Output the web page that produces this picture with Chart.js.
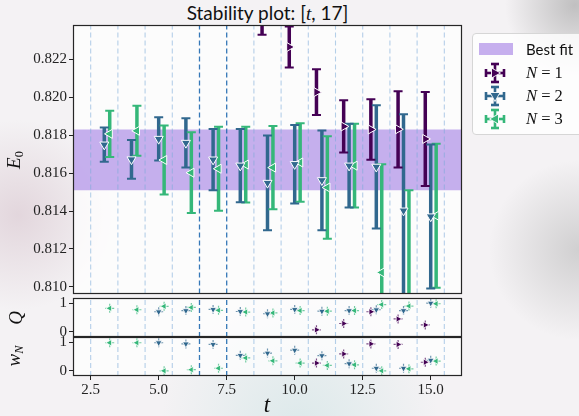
<!DOCTYPE html>
<html lang="en">
<head>
<meta charset="UTF-8">
<title>Stability plot</title>
<script src="https://cdn.jsdelivr.net/npm/chart.js@4.4.0/dist/chart.umd.min.js"></script>
<style>
  html, body { margin: 0; padding: 0; }
  body {
    position: relative;
    width: 579px;
    height: 416px;
    overflow: hidden;
    background:
      radial-gradient(circle at 18px 215px, rgba(205,180,192,0.45), rgba(205,180,192,0) 95px),
      radial-gradient(circle at 575px 5px, rgba(150,150,150,0.55), rgba(150,150,150,0) 70px),
      radial-gradient(circle at 579px 250px, rgba(165,165,165,0.45), rgba(165,165,165,0) 90px),
      radial-gradient(circle at 300px 430px, rgba(190,222,222,0.45), rgba(190,222,222,0) 140px),
      #f4f2f4;
  }
  .box { position: absolute; left: 0; width: 579px; }
  canvas { display: block; }
  #title {
    position: absolute; left: 73px; width: 389px; top: 1px;
    text-align: center; font: 19px/24px Lato, sans-serif; color: #111;
  }
  .m { font-family: 'Liberation Serif', serif; font-style: italic; }
  .lab {
    position: absolute; transform: translate(-50%, -50%) rotate(-90deg);
    white-space: nowrap; font-family: 'Liberation Serif', serif; color: #111;
  }
  .lab sub { font-style: normal; font-size: 65%; vertical-align: -0.25em; }
  .lab i sub { font-style: italic; }
  #xlab {
    position: absolute; left: 267px; top: 405px; transform: translate(-50%, -50%);
    font: italic 23px 'Liberation Serif', serif; color: #111;
  }
  #legend {
    position: absolute; left: 472px; top: 33px; width: 120px; height: 100px;
    border: 1px solid #d6d6d6; border-radius: 4px; background: rgba(255,255,255,0.8);
  }
  .row { position: absolute; left: 0; height: 22px; width: 110px; }
  .row .ico { position: absolute; left: 10px; top: 0; }
  .row .txt {
    position: absolute; left: 53px; top: 0; line-height: 22px; color: #111;
    white-space: nowrap;
  }
  .sw { position: absolute; left: 6px; top: 5px; width: 34px; height: 12px; }
</style>
</head>
<body>
<div id="title">Stability plot: [<span class="m">t</span>, 17]</div>
<div class="box" style="top:0;height:300px"><canvas id="mainChart" width="579" height="300"></canvas></div>
<div class="box" style="top:290px;height:56px"><canvas id="qChart" width="579" height="56"></canvas></div>
<div class="box" style="top:329px;height:87px"><canvas id="wChart" width="579" height="87"></canvas></div>
<div class="lab" style="left:15px;top:160px;font-size:19px"><i>E</i><sub>0</sub></div>
<div class="lab" style="left:16px;top:318px;font-size:19px"><i>Q</i></div>
<div class="lab" style="left:15px;top:356px;font-size:19px"><i>w<sub>N</sub></i></div>
<div id="xlab">t</div>
<div id="legend"></div>

<script>
// fit windows t = 3..15 (tmax = 17)
const tValues = [3, 4, 5, 6, 7, 8, 9, 10, 11, 12, 13, 14, 15];
const xTicks = [2.5, 5, 7.5, 10, 12.5, 15];
const e0Ticks = [0.810, 0.812, 0.814, 0.816, 0.818, 0.820, 0.822];
const unitTicks = [0, 1];
const guideLines = [2.5, 3.5, 4.5, 5.5, 6.5, 7.5, 8.5, 9.5, 10.5, 11.5, 12.5, 13.5, 14.5, 15.5];
const chosenWindow = [6.5, 7.5];
const bestFit = [0.8151, 0.8183];

// E0 and its error per number of states
const e0N1 = [null, null, null, null, null, null, 0.8245, 0.82265, 0.82027, 0.81846, 0.8183, 0.81831, 0.8178];
const errN1 = [null, null, null, null, null, null, 0.0012, 0.00108, 0.00121, 0.00138, 0.0016, 0.00201, 0.00248];
const e0N2 = [0.8175, 0.81672, 0.8178, 0.81759, 0.81671, 0.81639, 0.81548, 0.81647, 0.81562, 0.81639, 0.81633, 0.81402, 0.81371];
const errN2 = [0.0009, 0.00102, 0.00114, 0.0013, 0.00161, 0.00193, 0.0025, 0.00207, 0.00263, 0.00221, 0.00325, 0.00508, 0.0038];
const e0N3 = [0.81807, 0.81823, 0.81669, 0.81602, 0.81623, 0.81645, 0.81629, 0.81656, 0.81524, 0.81639, 0.81076, 0.8090, 0.81375];
const errN3 = [0.00122, 0.00132, 0.00182, 0.00213, 0.00221, 0.002, 0.0022, 0.00207, 0.0027, 0.00221, 0.00571, 0.00609, 0.0038];

// fit quality Q
const qN1 = [null, null, null, null, null, null, null, null, 0.07, 0.29, 0.7, 0.45, 0.24];
const qN2 = [null, null, 0.7, 0.74, 0.78, 0.71, 0.63, 0.78, 0.72, 0.74, 0.77, 0.74, 1.0];
const qN3 = [0.82, 0.77, 0.89, 0.85, 0.75, 0.69, 0.66, 0.74, 0.72, 0.74, 0.95, 0.9, 0.98];

// model weights w_N
const wN1 = [null, null, null, null, null, null, null, null, 0.27, 0.59, 0.94, 0.92, 0.3];
const wN2 = [null, null, 0.98, 0.94, 0.92, 0.54, 0.62, 0.72, 0.53, 0.25, 0.09, 0.09, 0.37];
const wN3 = [0.98, 0.98, 0.0, 0.04, 0.09, 0.45, 0.35, 0.27, 0.19, 0.21, 0.0, 0.07, 0.34];

const xMin = 1.85, xMax = 16.15;
const e0Min = 0.80965, e0Max = 0.82381;
const unitMin = -0.18, unitMax = 1.18;

const series = [
  { n: 1, e0: e0N1, err: errN1, q: qN1, w: wN1, shift: -0.2, color: '#440154', rot: 90 },
  { n: 2, e0: e0N2, err: errN2, q: qN2, w: wN2, shift: 0, color: '#31688e', rot: 180 },
  { n: 3, e0: e0N3, err: errN3, q: qN3, w: wN3, shift: 0.2, color: '#35b779', rot: 270 }
];

const tickFont = { family: 'Liberation Serif', size: 15 };
const bandColor = 'rgba(163, 128, 228, 0.62)';

function pts(vals, shift) {
  return tValues.map((t, i) => vals[i] == null ? null : { x: t + shift, y: vals[i] }).filter(Boolean);
}

function guideDatasets(lo, hi) {
  return guideLines.map(g => ({
    type: 'line',
    data: [{ x: g, y: lo }, { x: g, y: hi }],
    borderColor: chosenWindow.includes(g) ? 'rgba(31, 105, 175, 0.9)' : 'rgba(120, 170, 215, 0.55)',
    borderWidth: chosenWindow.includes(g) ? 1.3 : 1.1,
    borderDash: [5, 3],
    pointRadius: 0,
    order: 9
  }));
}

const panelFrame = {
  id: 'panelFrame',
  beforeDraw(chart) {
    const a = chart.chartArea, ctx = chart.ctx;
    ctx.save();
    ctx.fillStyle = 'rgba(255,255,255,0.72)';
    ctx.fillRect(a.left, a.top, a.width, a.height);
    ctx.restore();
  },
  afterDraw(chart) {
    const a = chart.chartArea, ctx = chart.ctx;
    ctx.save();
    ctx.strokeStyle = '#262626';
    ctx.lineWidth = 1.2;
    ctx.strokeRect(Math.round(a.left) + 0.5, Math.round(a.top) + 0.5, Math.round(a.width) - 1, Math.round(a.height) - 1);
    ctx.restore();
  }
};

function yScale(min, max, ticks, fmt) {
  return {
    type: 'linear', min, max,
    afterBuildTicks: s => { s.ticks = ticks.map(v => ({ value: v })); },
    afterFit: s => { s.width = 73; s.paddingTop = 0; s.paddingBottom = 0; },
    grid: { drawOnChartArea: false, drawTicks: true, tickLength: 4, tickColor: '#222', tickWidth: 1 },
    border: { display: false },
    ticks: { font: tickFont, color: '#222', padding: 2, callback: v => fmt(v) }
  };
}

function xScale(show) {
  // bar datasets would otherwise switch the x axis to offset mode
  const sc = { type: 'linear', min: xMin, max: xMax, display: show, offset: false, grid: { offset: false } };
  if (show) {
    Object.assign(sc, {
      afterBuildTicks: s => { s.ticks = xTicks.map(v => ({ value: v })); },
      afterFit: s => { s.height = 40; s.paddingLeft = 0; s.paddingRight = 0; },
      grid: { offset: false, drawOnChartArea: false, drawTicks: true, tickLength: 4, tickColor: '#222', tickWidth: 1 },
      border: { display: false },
      ticks: { font: tickFont, color: '#222', padding: 1, maxRotation: 0, autoSkip: false, callback: v => v.toFixed(1) }
    });
  }
  return sc;
}

function baseOptions(x, y, pad) {
  return {
    responsive: false,
    animation: false,
    events: [],
    layout: { padding: pad },
    plugins: { legend: { display: false }, tooltip: { enabled: false } },
    scales: { x, y }
  };
}

// main panel: E0 with error bars
const mainSets = [{
  type: 'line',
  data: [{ x: xMin, y: bestFit[1] }, { x: xMax, y: bestFit[1] }],
  fill: { value: bestFit[0] },
  backgroundColor: bandColor,
  borderWidth: 0,
  pointRadius: 0,
  order: 10
}].concat(guideDatasets(e0Min, e0Max));

series.forEach(s => {
  const idx = tValues.map((t, i) => i).filter(i => s.e0[i] != null);
  mainSets.push({
    type: 'bar',
    data: idx.map(i => ({ x: tValues[i] + s.shift, y: [s.e0[i] - s.err[i], s.e0[i] + s.err[i]] })),
    backgroundColor: s.color,
    borderWidth: 0,
    maxBarThickness: 3.5,
    grouped: false,
    order: 4
  });
  mainSets.push({
    type: 'scatter',
    data: idx.flatMap(i => [
      { x: tValues[i] + s.shift, y: s.e0[i] - s.err[i] },
      { x: tValues[i] + s.shift, y: s.e0[i] + s.err[i] }
    ]),
    pointStyle: 'line',
    pointRadius: 4.5,
    pointBorderWidth: 2,
    pointBorderColor: s.color,
    order: 3
  });
  mainSets.push({
    type: 'scatter',
    data: pts(s.e0, s.shift),
    pointStyle: 'triangle',
    pointRotation: s.rot,
    pointRadius: 5.2,
    pointBackgroundColor: s.color,
    pointBorderColor: '#ffffff',
    pointBorderWidth: 1,
    order: 1
  });
});

function smallSets(key) {
  const sets = guideDatasets(unitMin, unitMax);
  series.forEach(s => {
    sets.push({
      type: 'scatter',
      data: pts(s[key], s.shift),
      pointStyle: 'cross',
      pointRadius: 4.5,
      pointBorderWidth: 1.2,
      pointBorderColor: s.color + 'b0',
      order: 2
    });
    sets.push({
      type: 'scatter',
      data: pts(s[key], s.shift),
      pointStyle: 'triangle',
      pointRotation: s.rot,
      pointRadius: 3.8,
      pointBackgroundColor: s.color,
      pointBorderColor: '#ffffff',
      pointBorderWidth: 0.8,
      order: 1
    });
  });
  return sets;
}

const fmt3 = v => v.toFixed(3);
const fmt0 = v => String(v);

new Chart(document.getElementById('mainChart'), {
  type: 'scatter',
  data: { datasets: mainSets },
  options: baseOptions(xScale(false), yScale(e0Min, e0Max, e0Ticks, fmt3), { left: 0, right: 117, top: 25, bottom: 2 }),
  plugins: [panelFrame]
});

new Chart(document.getElementById('qChart'), {
  type: 'scatter',
  data: { datasets: smallSets('q') },
  options: baseOptions(xScale(false), yScale(unitMin, unitMax, unitTicks, fmt0), { left: 0, right: 117, top: 8, bottom: 9 }),
  plugins: [panelFrame]
});

new Chart(document.getElementById('wChart'), {
  type: 'scatter',
  data: { datasets: smallSets('w') },
  options: baseOptions(xScale(true), yScale(unitMin, unitMax, unitTicks, fmt0), { left: 0, right: 117, top: 8, bottom: 0 }),
  plugins: [panelFrame]
});

// legend
const legend = document.getElementById('legend');
const rows = [`<div class="row" style="top:4px"><span class="sw" style="background:${bandColor}"></span><span class="txt" style="font:15px/22px Lato,sans-serif">Best fit</span></div>`];
series.forEach((s, k) => {
  const tri = `<polygon points="12,5.5 17,14.5 7,14.5" transform="rotate(${s.rot} 12 11)" fill="${s.color}" stroke="#fff" stroke-width="0.9"/>`;
  const icon = `<svg class="ico" width="24" height="22" viewBox="0 0 24 22">
    <g stroke="${s.color}" stroke-width="2.6">
      <line x1="12" y1="2" x2="12" y2="20"/><line x1="8" y1="2" x2="16" y2="2"/><line x1="8" y1="20" x2="16" y2="20"/>
      <line x1="3" y1="11" x2="21" y2="11"/><line x1="3" y1="7" x2="3" y2="15"/><line x1="21" y1="7" x2="21" y2="15"/>
    </g>${tri}</svg>`;
  rows.push(`<div class="row" style="top:${28 + k * 23}px">${icon}<span class="txt" style="font:16.5px/22px 'Liberation Serif',serif"><i>N</i> = ${s.n}</span></div>`);
});
legend.innerHTML = rows.join('');
</script>
</body>
</html>
